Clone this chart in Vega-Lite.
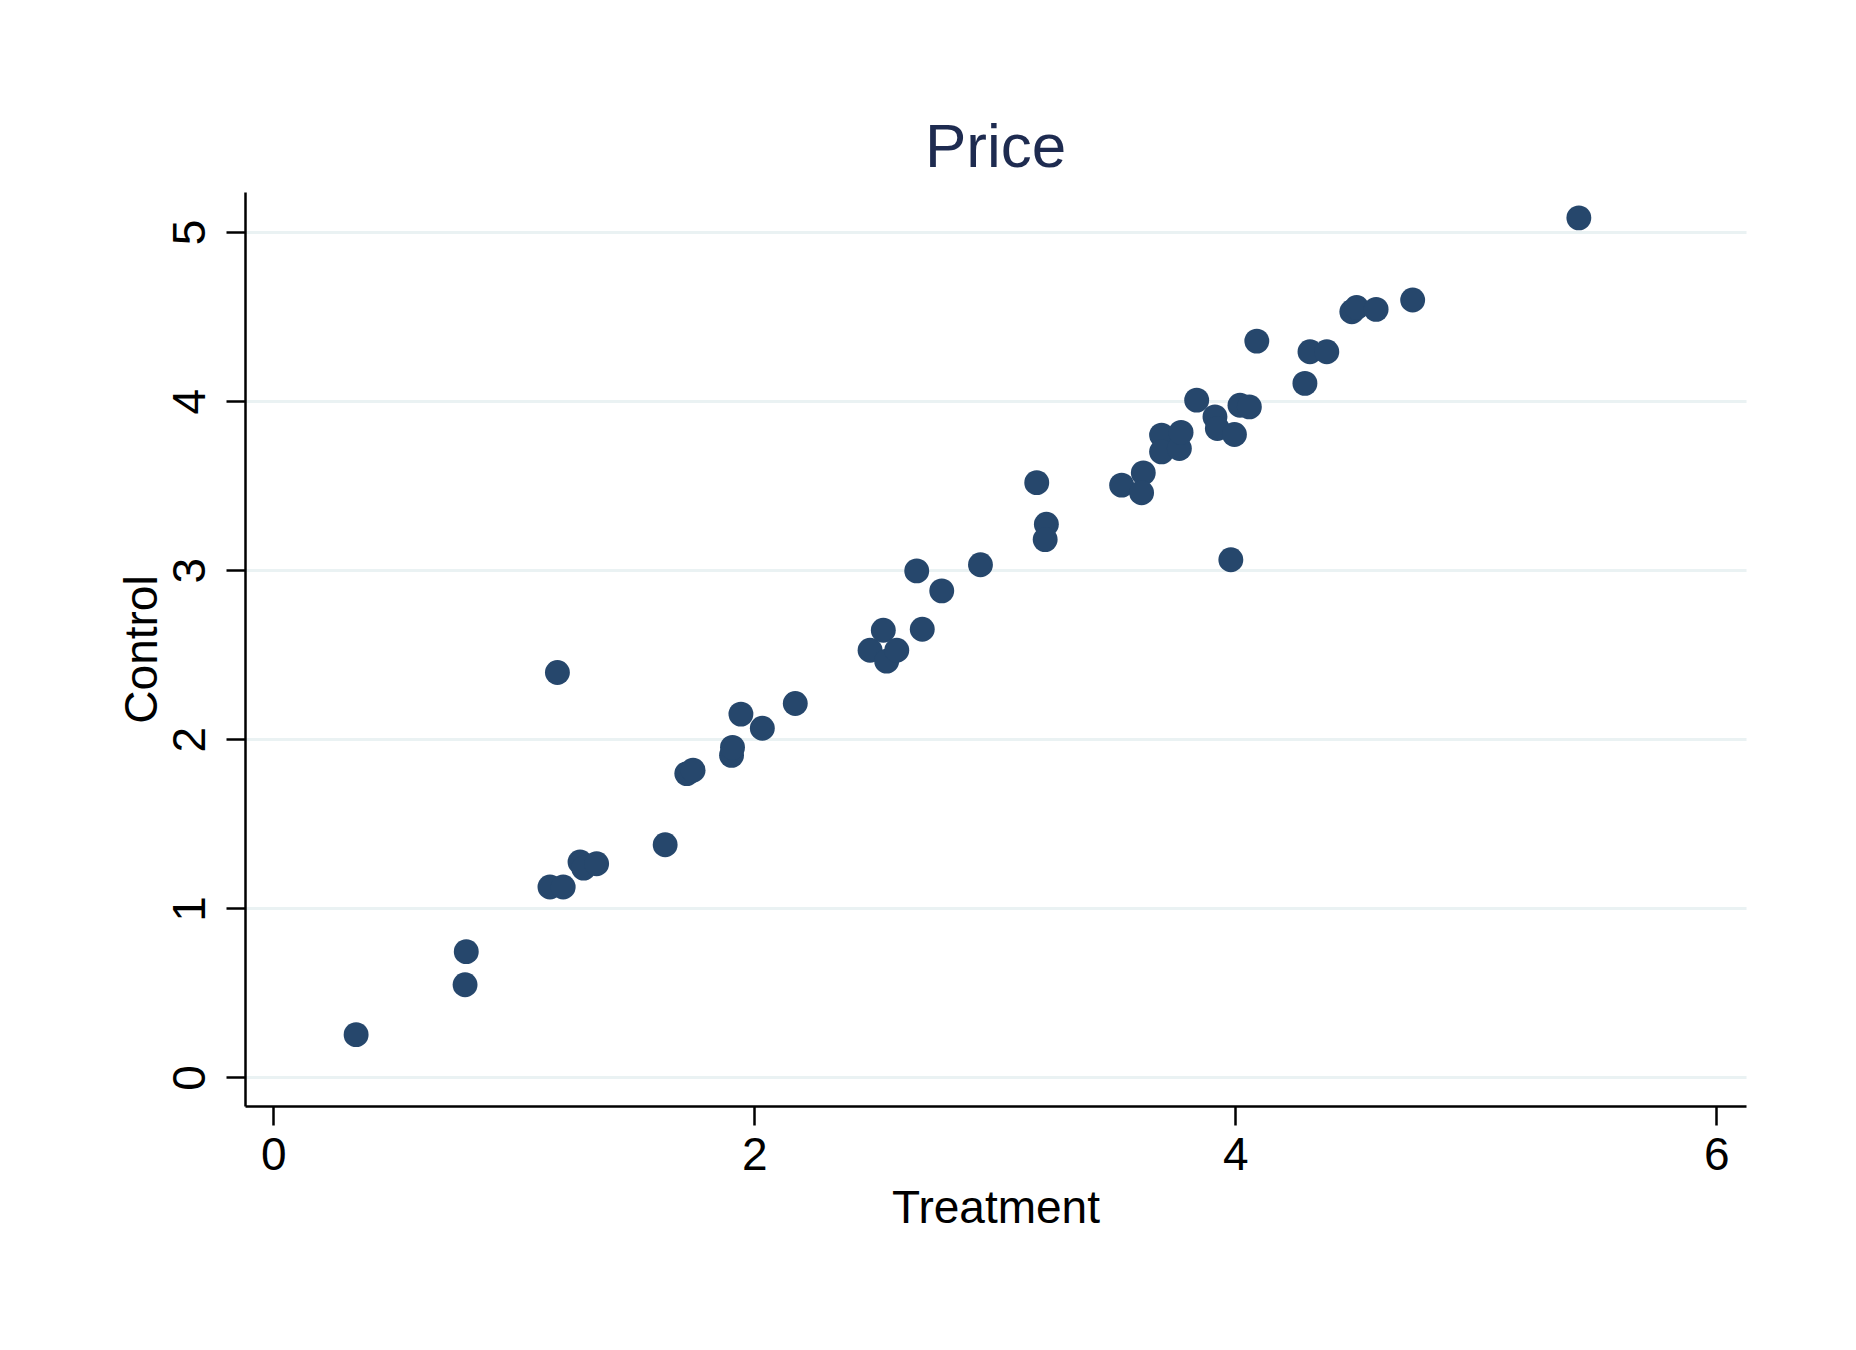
{
  "$schema": "https://vega.github.io/schema/vega-lite/v6.json",
  "autosize": {"type": "none"},
  "padding": {"left": 245, "top": 192, "right": 110, "bottom": 244},
  "width": 1501,
  "height": 914,
  "background": "white",
  "title": {
    "text": "Price",
    "font": "Liberation Sans",
    "fontSize": 62,
    "fontWeight": "normal",
    "color": "#1e2b50",
    "anchor": "middle",
    "frame": "group",
    "baseline": "alphabetic",
    "offset": -37
  },
  "config": {
    "view": {"stroke": null},
    "axis": {
      "labelFont": "Liberation Sans",
      "titleFont": "Liberation Sans",
      "labelFontSize": 46,
      "titleFontSize": 46,
      "titleFontWeight": "normal",
      "labelColor": "#000000",
      "titleColor": "#000000",
      "domainColor": "#000000",
      "domainWidth": 2.5,
      "tickColor": "#000000",
      "tickWidth": 2.5,
      "tickSize": 19
    }
  },
  "data": {
    "values": [
      {"Treatment": 0.344, "Control": 0.253},
      {"Treatment": 0.802, "Control": 0.744},
      {"Treatment": 0.797, "Control": 0.548},
      {"Treatment": 1.181, "Control": 2.395},
      {"Treatment": 1.150, "Control": 1.126},
      {"Treatment": 1.205, "Control": 1.126},
      {"Treatment": 1.275, "Control": 1.274},
      {"Treatment": 1.290, "Control": 1.238},
      {"Treatment": 1.344, "Control": 1.264},
      {"Treatment": 1.629, "Control": 1.376},
      {"Treatment": 1.719, "Control": 1.797},
      {"Treatment": 1.745, "Control": 1.817},
      {"Treatment": 1.905, "Control": 1.905},
      {"Treatment": 1.909, "Control": 1.952},
      {"Treatment": 1.944, "Control": 2.149},
      {"Treatment": 2.033, "Control": 2.065},
      {"Treatment": 2.170, "Control": 2.212},
      {"Treatment": 2.481, "Control": 2.527},
      {"Treatment": 2.536, "Control": 2.645},
      {"Treatment": 2.550, "Control": 2.462},
      {"Treatment": 2.592, "Control": 2.527},
      {"Treatment": 2.675, "Control": 2.996},
      {"Treatment": 2.698, "Control": 2.651},
      {"Treatment": 2.779, "Control": 2.878},
      {"Treatment": 2.940, "Control": 3.032},
      {"Treatment": 3.174, "Control": 3.518},
      {"Treatment": 3.214, "Control": 3.272},
      {"Treatment": 3.209, "Control": 3.181},
      {"Treatment": 3.527, "Control": 3.503},
      {"Treatment": 3.617, "Control": 3.576},
      {"Treatment": 3.610, "Control": 3.458},
      {"Treatment": 3.693, "Control": 3.799},
      {"Treatment": 3.693, "Control": 3.700},
      {"Treatment": 3.767, "Control": 3.720},
      {"Treatment": 3.774, "Control": 3.815},
      {"Treatment": 3.839, "Control": 4.006},
      {"Treatment": 3.915, "Control": 3.907},
      {"Treatment": 3.925, "Control": 3.838},
      {"Treatment": 3.996, "Control": 3.803},
      {"Treatment": 4.019, "Control": 3.976},
      {"Treatment": 4.058, "Control": 3.966},
      {"Treatment": 3.981, "Control": 3.062},
      {"Treatment": 4.089, "Control": 4.355},
      {"Treatment": 4.289, "Control": 4.105},
      {"Treatment": 4.310, "Control": 4.292},
      {"Treatment": 4.380, "Control": 4.292},
      {"Treatment": 4.484, "Control": 4.529},
      {"Treatment": 4.504, "Control": 4.554},
      {"Treatment": 4.585, "Control": 4.543},
      {"Treatment": 4.737, "Control": 4.598},
      {"Treatment": 5.428, "Control": 5.084}
    ]
  },
  "mark": {"type": "circle", "size": 620, "color": "#26476c", "opacity": 1},
  "encoding": {
    "x": {
      "field": "Treatment",
      "type": "quantitative",
      "scale": {"domain": [-0.118, 6.123], "nice": false, "zero": false},
      "axis": {
        "title": "Treatment",
        "values": [0, 2, 4, 6],
        "grid": false,
        "labelPadding": 8,
        "labelBaseline": "top",
        "titleBaseline": "alphabetic",
        "titleY": 116
      }
    },
    "y": {
      "field": "Control",
      "type": "quantitative",
      "scale": {"domain": [-0.169, 5.237], "nice": false, "zero": false},
      "axis": {
        "title": "Control",
        "values": [0, 1, 2, 3, 4, 5],
        "grid": true,
        "gridColor": "#eaf2f3",
        "gridWidth": 3,
        "labelAngle": 270,
        "labelAlign": "center",
        "labelBaseline": "alphabetic",
        "labelPadding": 22,
        "titleAngle": 270,
        "titleAlign": "center",
        "titleBaseline": "alphabetic",
        "titleX": -89,
        "titleY": 457
      }
    }
  }
}
